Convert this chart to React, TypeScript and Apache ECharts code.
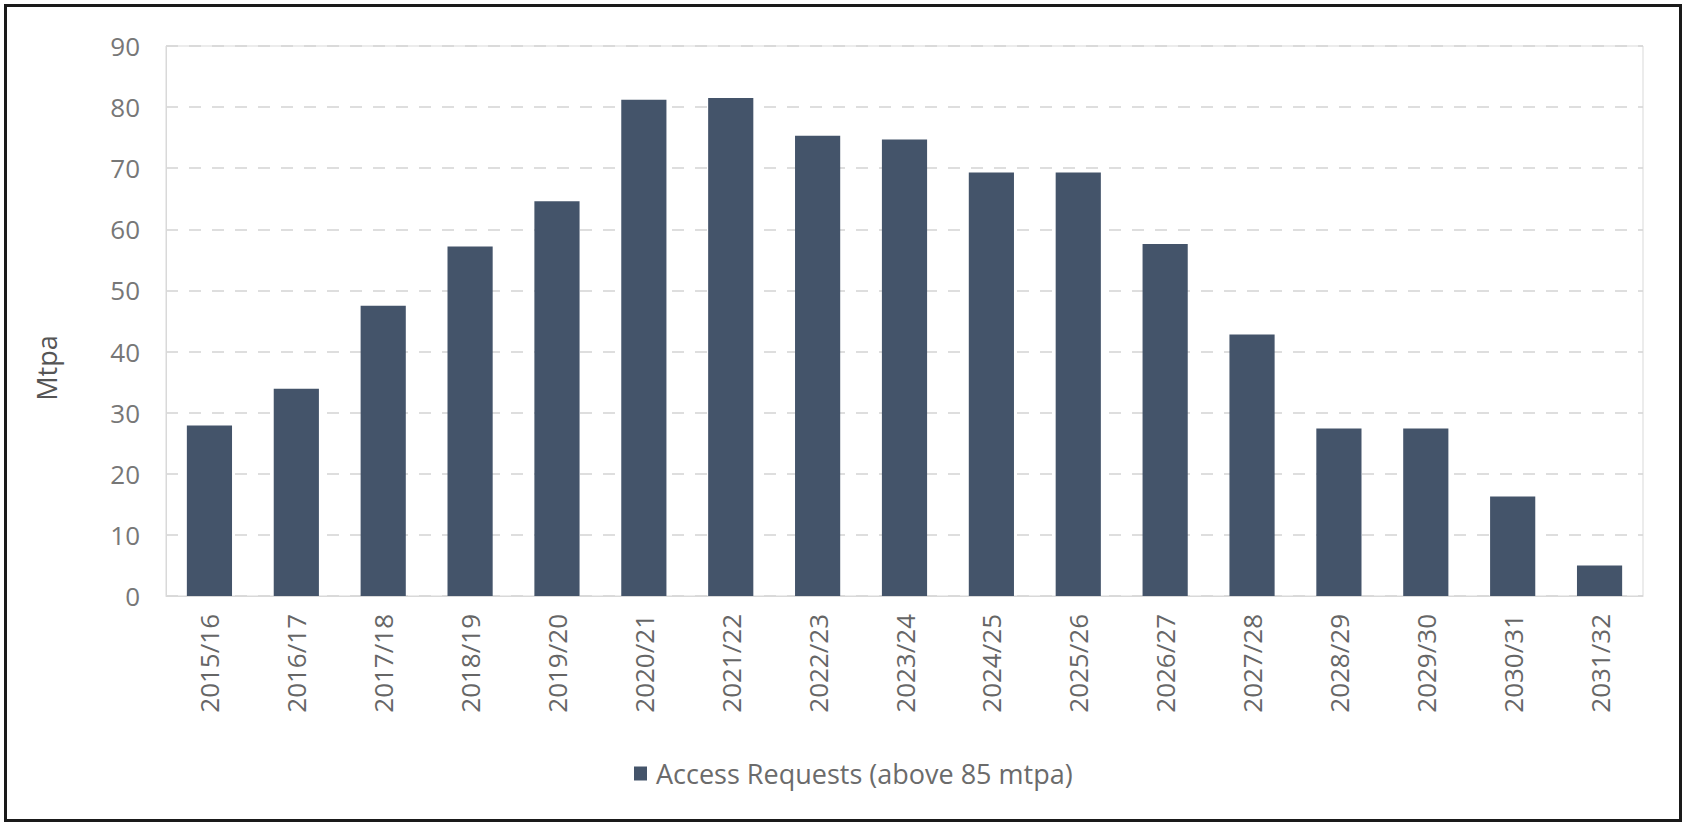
import React, { useEffect, useRef } from "react";
import * as echarts from "echarts";

const categories = [
  "2015/16", "2016/17", "2017/18", "2018/19", "2019/20", "2020/21", "2021/22", "2022/23", "2023/24",
  "2024/25", "2025/26", "2026/27", "2027/28", "2028/29", "2029/30", "2030/31", "2031/32",
];
const accessRequests = [27.9, 33.9, 47.5, 57.2, 64.6, 81.2, 81.5, 75.3, 74.7, 69.3, 69.3, 57.6, 42.8, 27.4, 27.4, 16.3, 5.0];
const seriesName = "Access Requests (above 85 mtpa)";
const yAxisName = "Mtpa";
const yMin = 0;
const yMax = 90;
const yInterval = 10;

const FONT = "'Open Sans', Lato, sans-serif";

export default function App() {
  const ref = useRef<HTMLDivElement>(null);
  useEffect(() => {
    document.body.style.margin = "0";
    if (!ref.current) return;
    const chart = echarts.init(ref.current, null, { renderer: "svg" });
    chart.setOption({
      animation: false,
      backgroundColor: "#ffffff",
      textStyle: { fontFamily: FONT },
      grid: { left: 166, right: 43, top: 46, bottom: 229, show: true, borderColor: "#d9d9d9", borderWidth: 1 },
      legend: {
        show: true,
        left: 634,
        top: 760,
        padding: 0,
        itemWidth: 13,
        itemHeight: 14,
        itemGap: 10,
        icon: "rect",
        textStyle: { fontSize: 27, color: "#6b6b6b", fontFamily: FONT, padding: [0, 0, 0, 4] },
        data: [seriesName],
      },
      xAxis: {
        type: "category",
        data: categories,
        axisLine: { show: true, lineStyle: { color: "#d9d9d9", width: 1 } },
        axisTick: { show: false },
        axisLabel: { rotate: 90, margin: 18, fontSize: 26, color: "#666666", fontFamily: FONT },
      },
      yAxis: {
        type: "value",
        min: yMin,
        max: yMax,
        interval: yInterval,
        axisLine: { show: true, lineStyle: { color: "#d9d9d9", width: 1 } },
        axisTick: { show: false },
        axisLabel: { margin: 26, fontSize: 26, color: "#777777", fontFamily: FONT },
        splitLine: { show: true, lineStyle: { color: "#d4d4d4", type: [12, 11], width: 1.5 } },
      },
      series: [
        {
          name: seriesName,
          type: "bar",
          data: accessRequests,
          barCategoryGap: "48%",
          itemStyle: { color: "#44546a" },
        },
      ],
      graphic: [
        {
          type: "rect",
          shape: { x: 5.5, y: 5.5, width: 1675, height: 815 },
          style: { fill: "none", stroke: "#1a1a1a", lineWidth: 3 },
          silent: true,
        },
        {
          type: "text",
          x: 46,
          y: 368,
          rotation: Math.PI / 2,
          style: {
            text: yAxisName,
            fontSize: 27,
            fill: "#555555",
            fontFamily: FONT,
            align: "center",
            verticalAlign: "middle",
          },
        },
      ],
    });
    return () => chart.dispose();
  }, []);
  return <div ref={ref} style={{ width: 1686, height: 825 }} />;
}
